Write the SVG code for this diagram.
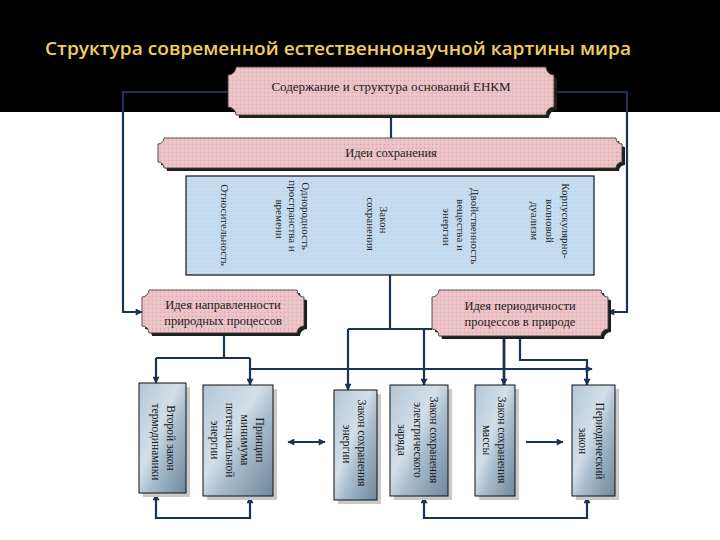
<svg xmlns="http://www.w3.org/2000/svg" width="720" height="540" viewBox="0 0 720 540">
<defs>
<style>
.title{font-family:"Open Sans","Noto Sans","Liberation Sans",sans-serif;font-size:18px;font-weight:600;fill:#F2CC5E}
.pl{fill:url(#pink);stroke:#4a3a3a;stroke-width:0.9}
.plsh{fill:#1e1e1e}
.ptx{font-family:"Liberation Serif","DejaVu Serif",serif;font-size:12.5px;fill:#1c1c1c;text-anchor:middle}
.vtx{font-family:"Liberation Serif","DejaVu Serif",serif;font-size:11px;fill:#1c1c1c;text-anchor:middle;dominant-baseline:central}
.btx{font-family:"Liberation Serif","DejaVu Serif",serif;font-size:11.5px;fill:#161616;text-anchor:middle;dominant-baseline:central}
.box{fill:url(#steel);stroke:#111;stroke-width:1}
.bsh{fill:#c9c9c9}
.ln{fill:none;stroke:#1B3354;stroke-width:2.2}
</style>
<pattern id="pink" width="4" height="4" patternUnits="userSpaceOnUse">
<rect width="4" height="4" fill="#EAC1C4"/>
<rect x="0" y="0" width="1" height="1" fill="#D9A3A8"/>
<rect x="2" y="2" width="1" height="1" fill="#F3D6D8"/>
</pattern>
<pattern id="blue" width="4" height="4" patternUnits="userSpaceOnUse">
<rect width="4" height="4" fill="#C4DCF0"/>
<rect x="1" y="1" width="1" height="1" fill="#D8D0EA"/>
<rect x="3" y="3" width="1" height="1" fill="#B2CFE8"/>
</pattern>
<linearGradient id="steel" x1="0" y1="0" x2="1" y2="1">
<stop offset="0" stop-color="#B3C7D7"/>
<stop offset="0.42" stop-color="#D3DFE9"/>
<stop offset="0.6" stop-color="#A8BCCC"/>
<stop offset="1" stop-color="#6E879D"/>
</linearGradient>
<marker id="ar" viewBox="0 0 10 10" refX="9" refY="5" markerWidth="8" markerHeight="7" markerUnits="userSpaceOnUse" orient="auto-start-reverse">
<path d="M0,0 L10,5 L0,10 Z" fill="#1B3354"/>
</marker>
</defs>

<rect x="0" y="0" width="720" height="540" fill="#ffffff"/>
<rect x="0" y="0" width="720" height="112" fill="#000000"/>
<text class="title" x="45" y="55" textLength="586" lengthAdjust="spacingAndGlyphs">Структура современной естественнонаучной картины мира</text>

<g id="connectors">
<path class="ln" d="M228,92 H123 V312 H142" marker-end="url(#ar)"/>
<path class="ln" d="M554,92 H627 V312 H608" marker-end="url(#ar)"/>
<path class="ln" d="M391,115 V138"/>
<path class="ln" d="M390,275 V329"/>
<path class="ln" d="M348,329 H432"/>
<path class="ln" d="M348,329 V390" marker-end="url(#ar)"/>
<path class="ln" d="M424,329 V385" marker-end="url(#ar)"/>
<path class="ln" d="M224,333 V358"/>
<path class="ln" d="M156,358 H250"/>
<path class="ln" d="M156,358 V383" marker-end="url(#ar)"/>
<path class="ln" d="M250,358 V385" marker-end="url(#ar)"/>
<path class="ln" d="M250,369 H592" marker-end="url(#ar)"/>
<path class="ln" d="M504,336 V385" marker-end="url(#ar)" style="stroke-width:2.8"/>
<path class="ln" d="M520,336 V360 H587 V385" marker-end="url(#ar)"/>
<path class="ln" d="M288,442 H325" marker-start="url(#ar)" marker-end="url(#ar)"/>
<path class="ln" d="M526,442 H563" marker-end="url(#ar)"/>
<path class="ln" d="M156,494 V518 H250 V497" marker-start="url(#ar)" marker-end="url(#ar)"/>
<path class="ln" d="M424,497 V518 H587 V497" marker-start="url(#ar)" marker-end="url(#ar)"/>
</g>

<g id="n-top">
<path class="plsh" transform="translate(3,3)" d="M236,67 H546 A8,8 0 0 0 554,75 V107 A8,8 0 0 0 546,115 H236 A8,8 0 0 0 228,107 V75 A8,8 0 0 0 236,67 Z"/>
<path class="pl" d="M236,67 H546 A8,8 0 0 0 554,75 V107 A8,8 0 0 0 546,115 H236 A8,8 0 0 0 228,107 V75 A8,8 0 0 0 236,67 Z"/>
<text class="ptx" x="391" y="91" style="font-size:13px">Содержание и структура оснований ЕНКМ</text>
</g>

<g id="n-ideas">
<path class="plsh" transform="translate(3,3)" d="M164,138 H616 A6,6 0 0 0 622,144 V162 A6,6 0 0 0 616,168 H164 A6,6 0 0 0 158,162 V144 A6,6 0 0 0 164,138 Z"/>
<path class="pl" d="M164,138 H616 A6,6 0 0 0 622,144 V162 A6,6 0 0 0 616,168 H164 A6,6 0 0 0 158,162 V144 A6,6 0 0 0 164,138 Z"/>
<text class="ptx" x="391" y="157">Идеи сохранения</text>
</g>

<g id="n-panel">
<rect x="186" y="176" width="408" height="99" fill="url(#blue)" stroke="#111" stroke-width="1.2"/>
<text class="vtx" transform="translate(225,225) rotate(90)">Относительность</text>
<text class="vtx" transform="translate(306,216) rotate(90)">Однородность</text>
<text class="vtx" transform="translate(293,216) rotate(90)">пространства и</text>
<text class="vtx" transform="translate(280,219) rotate(90)">времени</text>
<text class="vtx" transform="translate(384,220) rotate(90)">Закон</text>
<text class="vtx" transform="translate(371,224) rotate(90)">сохранения</text>
<text class="vtx" transform="translate(475,226) rotate(90)">Двойственность</text>
<text class="vtx" transform="translate(461,225) rotate(90)">вещества и</text>
<text class="vtx" transform="translate(447,227) rotate(90)">энергии</text>
<text class="vtx" transform="translate(566,221) rotate(90)">Корпускулярно-</text>
<text class="vtx" transform="translate(550,221) rotate(90)">волновой</text>
<text class="vtx" transform="translate(535,221) rotate(90)">дуализм</text>
</g>

<g id="n-dir">
<path class="plsh" transform="translate(3,3)" d="M149,290 H297 A7,7 0 0 0 304,297 V326 A7,7 0 0 0 297,333 H149 A7,7 0 0 0 142,326 V297 A7,7 0 0 0 149,290 Z"/>
<path class="pl" d="M149,290 H297 A7,7 0 0 0 304,297 V326 A7,7 0 0 0 297,333 H149 A7,7 0 0 0 142,326 V297 A7,7 0 0 0 149,290 Z"/>
<text class="ptx" x="223" y="309">Идея направленности</text>
<text class="ptx" x="223" y="325">природных процессов</text>
</g>

<g id="n-per">
<path class="plsh" transform="translate(3,3)" d="M439,290 H601 A7,7 0 0 0 608,297 V329 A7,7 0 0 0 601,336 H439 A7,7 0 0 0 432,329 V297 A7,7 0 0 0 439,290 Z"/>
<path class="pl" d="M439,290 H601 A7,7 0 0 0 608,297 V329 A7,7 0 0 0 601,336 H439 A7,7 0 0 0 432,329 V297 A7,7 0 0 0 439,290 Z"/>
<text class="ptx" x="520" y="310">Идея периодичности</text>
<text class="ptx" x="520" y="326">процессов в природе</text>
</g>

<g id="n-b1">
<rect class="bsh" x="143" y="387" width="47" height="110"/>
<rect class="box" x="139" y="383" width="47" height="110"/>
<text class="btx" transform="translate(171,438) rotate(90)">Второй закон</text>
<text class="btx" transform="translate(156,442) rotate(90)">термодинамики</text>
</g>

<g id="n-b2">
<rect class="bsh" x="207" y="389" width="70" height="111"/>
<rect class="box" x="203" y="385" width="70" height="111"/>
<text class="btx" transform="translate(260,440) rotate(90)">Принцип</text>
<text class="btx" transform="translate(245,440) rotate(90)">минимума</text>
<text class="btx" transform="translate(230,440) rotate(90)">потенциальной</text>
<text class="btx" transform="translate(215,440) rotate(90)">энергии</text>
</g>

<g id="n-b3">
<rect class="bsh" x="338" y="394" width="43" height="110"/>
<rect class="box" x="334" y="390" width="43" height="110"/>
<text class="btx" transform="translate(362,443) rotate(90)">Закон сохранения</text>
<text class="btx" transform="translate(347,444) rotate(90)">энергии</text>
</g>

<g id="n-b4">
<rect class="bsh" x="394" y="389" width="58" height="111"/>
<rect class="box" x="390" y="385" width="58" height="111"/>
<text class="btx" transform="translate(434,440) rotate(90)">Закон сохранения</text>
<text class="btx" transform="translate(418,440) rotate(90)">электрического</text>
<text class="btx" transform="translate(402,440) rotate(90)">заряда</text>
</g>

<g id="n-b5">
<rect class="bsh" x="479" y="389" width="40" height="111"/>
<rect class="box" x="475" y="385" width="40" height="111"/>
<text class="btx" transform="translate(502,440) rotate(90)">Закон сохранения</text>
<text class="btx" transform="translate(487,440) rotate(90)">массы</text>
</g>

<g id="n-b6">
<rect class="bsh" x="576" y="389" width="43" height="111"/>
<rect class="box" x="572" y="385" width="43" height="111"/>
<text class="btx" transform="translate(600,441) rotate(90)">Периодический</text>
<text class="btx" transform="translate(583,441) rotate(90)">закон</text>
</g>
</svg>
